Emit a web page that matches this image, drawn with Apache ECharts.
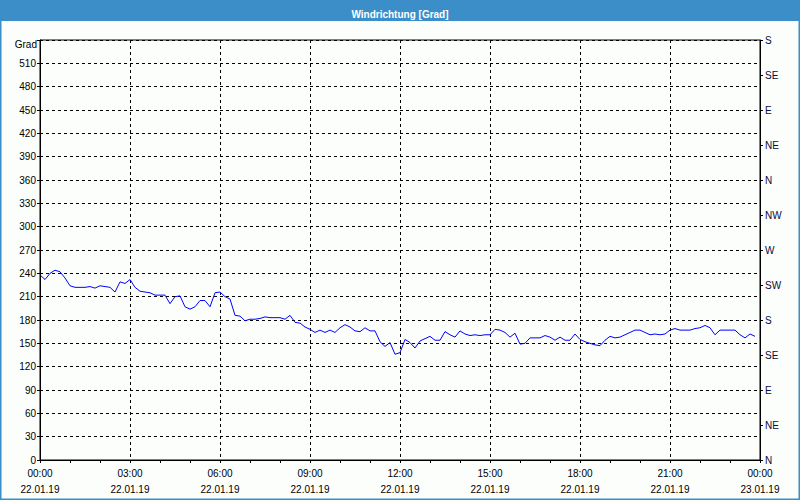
<!DOCTYPE html>
<html>
<head>
<meta charset="utf-8">
<script src="https://cdn.jsdelivr.net/npm/echarts@6/dist/echarts.min.js"></script>
<style>html,body{margin:0;padding:0;background:#fcfefc}#c{width:800px;height:500px}</style>
</head>
<body>
<div id="c"></div>
<script>
// Wind direction readings every 10 minutes from 22.01.19 00:00 (degrees)
const windDir = [
  238,232,240,244,242,234,224,222,222,222,223,221,224,223,222,216,229,227,232,222,
  217,216,215,212,212,212,201,210,211,197,194,197,205,205,197,215,216,210,207,186,
  185,179,181,181,182,184,183,183,183,181,186,177,176,171,168,164,167,164,167,164,
  170,174,171,166,165,170,166,166,152,146,151,136,138,155,151,144,153,156,159,154,
  154,165,161,158,166,162,160,161,160,161,161,168,167,164,158,163,149,150,157,157,
  157,160,158,154,158,154,154,162,155,152,150,148,147,154,159,157,158,161,164,167,
  167,164,161,162,161,162,167,169,167,167,167,169,170,173,170,161,167,167,167,167,
  161,157,162,159
];
const stepMinutes = 10;
const xTickTimes = ['00:00','03:00','06:00','09:00','12:00','15:00','18:00','21:00','00:00'];
const xTickDates = ['22.01.19','22.01.19','22.01.19','22.01.19','22.01.19','22.01.19','22.01.19','22.01.19','23.01.19'];
const compassLabels = ['N','NE','E','SE','S','SW','W','NW','N','NE','E','SE','S'];
const titleText = 'Windrichtung [Grad]';
const yName = 'Grad';

const FONT = 'Liberation Sans';
const seriesData = windDir.map((v, i) => [i * stepMinutes, v]);

const chart = echarts.init(document.getElementById('c'), null, {renderer: 'svg'});
chart.setOption({
  backgroundColor: '#fcfefc',
  animation: false,
  title: {
    text: titleText, left: 'center', top: 4, z: 20,
    textStyle: {color: '#ffffff', fontSize: 10, fontWeight: 'bold', fontFamily: FONT}
  },
  graphic: [
    {type: 'rect', z: 0, shape: {x: 0, y: 0, width: 800, height: 21}, style: {fill: '#3b8ec8'}},
    {type: 'rect', z: 0, shape: {x: 0, y: 0, width: 800, height: 500}, style: {fill: null, stroke: '#3b8ec8', lineWidth: 3}}
  ],
  grid: {left: 40, right: 40, top: 40, bottom: 40, show: true, borderColor: '#000', borderWidth: 1, backgroundColor: 'transparent'},
  xAxis: {
    type: 'value', min: 0, max: 1440, interval: 180,
    axisLine: {show: true, lineStyle: {color: '#000', width: 1}},
    axisTick: {show: true, length: 3, lineStyle: {color: '#000'}},
    minorTick: {show: true, splitNumber: 3, length: 3, lineStyle: {color: '#000'}},
    splitLine: {show: true, lineStyle: {color: '#000', type: [3, 3], width: 1}},
    axisLabel: {
      color: '#000', fontSize: 10, fontFamily: FONT, lineHeight: 16, margin: 5,
      formatter: v => { const i = Math.round(v / 180); return xTickTimes[i] + '\n' + xTickDates[i]; }
    }
  },
  yAxis: [
    {
      type: 'value', position: 'left', min: 0, max: 540, interval: 30,
      name: yName, nameLocation: 'end', nameGap: -4,
      nameTextStyle: {color: '#000', fontSize: 10, fontFamily: FONT, align: 'right', verticalAlign: 'middle', padding: [0, 3, 0, 0]},
      axisLine: {show: true, lineStyle: {color: '#000'}},
      axisTick: {show: true, length: 3, lineStyle: {color: '#000'}},
      splitLine: {show: true, lineStyle: {color: '#000', type: [3, 3], width: 1}},
      axisLabel: {color: '#000', fontSize: 10, fontFamily: FONT, margin: 4,
        formatter: v => v === 540 ? '' : String(v)}
    },
    {
      type: 'value', position: 'right', min: 0, max: 540, interval: 45,
      axisLine: {show: true, lineStyle: {color: '#000'}},
      axisTick: {show: true, length: 3, lineStyle: {color: '#000'}},
      splitLine: {show: false},
      axisLabel: {color: '#0a0a40', fontSize: 10, fontFamily: FONT, margin: 5,
        formatter: v => compassLabels[Math.round(v / 45)]}
    }
  ],
  series: [{
    type: 'line', yAxisIndex: 0, data: seriesData,
    showSymbol: false, symbol: 'none',
    lineStyle: {color: '#0000ff', width: 1},
    itemStyle: {color: '#0000ff'}
  }]
});
</script>
</body>
</html>
